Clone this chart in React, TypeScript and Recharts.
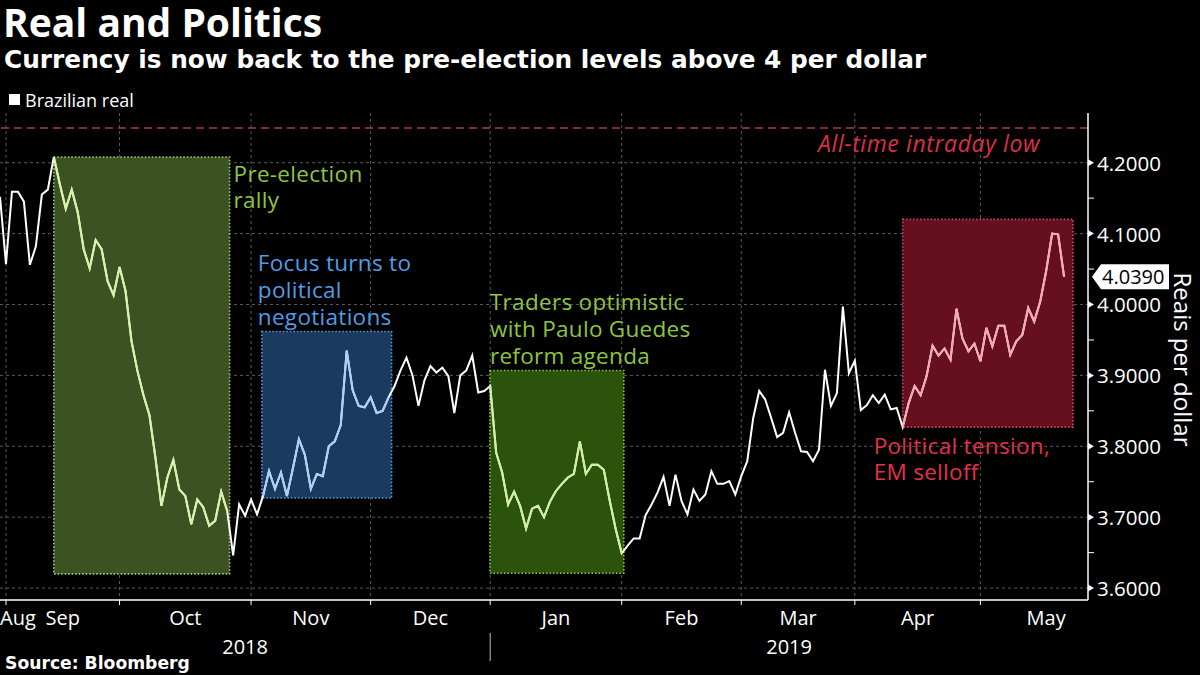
import React from 'react';
import {
  ComposedChart, Line, XAxis, YAxis, CartesianGrid, ReferenceArea, ReferenceLine,
} from 'recharts';

// USD/BRL, one close per trading day (index 0 = last day of Aug 2018)
const realValues = [
  4.152, 4.057, 4.159, 4.159, 4.145, 4.056, 4.082, 4.155, 4.162, 4.208,
  4.170, 4.135, 4.162, 4.130, 4.078, 4.051, 4.091, 4.078, 4.033, 4.013,
  4.053, 4.019, 3.948, 3.906, 3.872, 3.844, 3.784, 3.716, 3.756, 3.781,
  3.739, 3.730, 3.690, 3.725, 3.714, 3.688, 3.695, 3.736, 3.709, 3.646,
  3.718, 3.702, 3.725, 3.704, 3.730, 3.765, 3.740, 3.763, 3.730, 3.769,
  3.810, 3.788, 3.740, 3.761, 3.758, 3.800, 3.807, 3.830, 3.935, 3.879,
  3.857, 3.855, 3.869, 3.847, 3.850, 3.869, 3.885, 3.907, 3.925, 3.900,
  3.857, 3.893, 3.913, 3.904, 3.911, 3.899, 3.847, 3.900, 3.907, 3.928,
  3.876, 3.878, 3.885, 3.791, 3.763, 3.718, 3.736, 3.716, 3.684, 3.712,
  3.716, 3.700, 3.722, 3.737, 3.747, 3.756, 3.761, 3.807, 3.761, 3.774,
  3.774, 3.767, 3.723, 3.683, 3.649, 3.660, 3.670, 3.670, 3.703, 3.718,
  3.735, 3.757, 3.716, 3.760, 3.723, 3.704, 3.739, 3.723, 3.732, 3.765,
  3.747, 3.747, 3.751, 3.732, 3.758, 3.779, 3.840, 3.878, 3.866, 3.840,
  3.813, 3.819, 3.848, 3.819, 3.793, 3.792, 3.779, 3.795, 3.908, 3.857,
  3.875, 3.997, 3.903, 3.921, 3.851, 3.858, 3.872, 3.861, 3.873, 3.852,
  3.854, 3.827, 3.861, 3.885, 3.872, 3.899, 3.942, 3.928, 3.938, 3.922,
  3.994, 3.952, 3.934, 3.945, 3.920, 3.967, 3.941, 3.970, 3.970, 3.929,
  3.948, 3.957, 3.995, 3.976, 4.004, 4.047, 4.100, 4.099, 4.039,
];

const monthLabels = ['Aug', 'Sep', 'Oct', 'Nov', 'Dec', 'Jan', 'Feb', 'Mar', 'Apr', 'May'];
// index of first trading day of Sep .. May
const monthStartIdx = [1, 20, 42, 62, 82, 104, 124, 143, 164];
const yearLabels = ['2018', '2019'];
const yearStartIdx = [0, 82];
const X_MAX = 182;

const majorTicks = [3.6, 3.7, 3.8, 3.9, 4.0, 4.1, 4.2];
const minorTicks = [3.65, 3.75, 3.85, 3.95, 4.05, 4.15];
const lastValue = 4.039;
const allTimeLow = 4.249;

// highlighted periods
const periodStart = [9, 43.8, 81.95, 151];
const periodEnd = [38.4, 65.5, 104.35, 179.5];
const periodLow = [3.62, 3.727, 3.621, 3.827];
const periodHigh = [4.208, 3.962, 3.907, 4.12];
const periodNotes = [
  ['Pre-election', 'rally'],
  ['Focus turns to', 'political', 'negotiations'],
  ['Traders optimistic', 'with Paulo Guedes', 'reform agenda'],
  ['Political tension,', 'EM selloff'],
];

const periodStyle = [
  { fill: '#3b5323', border: '#a8cf6c', line: '#daf2a8', text: '#8dc63f', place: 'right', dx: 4 },
  { fill: '#1a3a5f', border: '#5b9be0', line: '#a9d0f5', text: '#4f9de6', place: 'above', dx: -4 },
  { fill: '#2c530b', border: '#8dc63f', line: '#d3f0a2', text: '#8dc63f', place: 'above', dx: 0 },
  { fill: '#650f1f', border: '#d04a66', line: '#f4a8b6', text: '#e3304c', place: 'below', dx: -29 },
];

const FONT = '"Open Sans", "Liberation Sans", sans-serif';
const BOLD = '"DejaVu Sans", sans-serif';

const segKeys = periodStart.map((_, k) => `seg${k}`);
const data = realValues.map((v, i) => {
  const row: Record<string, number | null> = { i, v };
  periodStart.forEach((s, k) => {
    row[segKeys[k]] = i >= Math.ceil(s) && i <= Math.floor(periodEnd[k]) ? v : null;
  });
  return row;
});

// month labels sit in the middle of each month, Aug is pinned to the left edge
const monthLabelPos = monthLabels.map((_, k) => {
  if (k === 0) return 0;
  const start = monthStartIdx[k - 1];
  const end = k < monthStartIdx.length ? monthStartIdx[k] : start + 22;
  return (start + end) / 2;
});
const yearLabelPos = yearLabels.map((_, k) => {
  const end = k + 1 < yearStartIdx.length ? yearStartIdx[k + 1] : X_MAX;
  return (yearStartIdx[k] + end) / 2;
});
const yearSplit = yearStartIdx.slice(1);

const xTicks = Array.from(new Set([...monthStartIdx, ...monthLabelPos, ...yearLabelPos])).sort((a, b) => a - b);
const yTicks = [...majorTicks, ...minorTicks, lastValue].sort((a, b) => a - b);

const near = (list: number[], v: number) => list.findIndex((a) => Math.abs(a - v) < 1e-6);

const XTick = (props: any) => {
  const { x, y, payload } = props;
  const v = payload.value;
  const mk = near(monthLabelPos, v);
  const yk = near(yearLabelPos, v);
  return (
    <g>
      {near(monthStartIdx, v) >= 0 && <line x1={x} y1={y} x2={x} y2={y + 5} stroke="#fff" />}
      {near(yearSplit, v) >= 0 && <line x1={x} y1={y + 33} x2={x} y2={y + 61} stroke="#bbb" />}
      {mk >= 0 && (
        <text x={x} y={y + 17} textAnchor={mk === 0 ? 'start' : 'middle'} dominantBaseline="central"
          fill="#fff" fontSize={20} fontFamily={FONT}>{monthLabels[mk]}</text>
      )}
      {yk >= 0 && (
        <text x={x} y={y + 46} textAnchor="middle" dominantBaseline="central"
          fill="#fff" fontSize={20} fontFamily={FONT}>{yearLabels[yk]}</text>
      )}
    </g>
  );
};

const YTick = (props: any) => {
  const { x, y, payload } = props;
  const v = payload.value;
  if (Math.abs(v - lastValue) < 1e-6) {
    return (
      <g>
        <path d={`M${x + 4},${y} L${x + 13},${y - 12.5} L${x + 81},${y - 12.5} L${x + 81},${y + 12.5} L${x + 13},${y + 12.5} Z`} fill="#fff" />
        <text x={x + 14} y={y} dominantBaseline="central" fill="#000" fontSize={20} fontFamily={FONT}>
          {v.toFixed(4)}
        </text>
      </g>
    );
  }
  if (near(majorTicks, v) >= 0) {
    return (
      <g>
        <path d={`M${x},${y - 3.5} L${x + 6},${y} L${x},${y + 3.5} Z`} fill="#fff" />
        <text x={x + 9} y={y} dominantBaseline="central" fill="#fff" fontSize={20.5} fontFamily={FONT}>
          {v.toFixed(4)}
        </text>
      </g>
    );
  }
  return <line x1={x} y1={y} x2={x + 6} y2={y} stroke="#fff" />;
};

const noteRenderer = (k: number) => (props: any) => {
  const { x, y, width, height } = props.viewBox;
  const st = periodStyle[k];
  const lines = periodNotes[k];
  const lh = 26.8;
  let tx = x + st.dx;
  let ty = y;
  if (st.place === 'right') {
    tx = x + width + st.dx;
    ty = y + 16;
  } else if (st.place === 'above') {
    ty = y - 15 - lh * (lines.length - 1);
  } else {
    ty = y + height + 18;
  }
  return (
    <g>
      {lines.map((l, j) => (
        <text key={j} x={tx} y={ty + j * lh} dominantBaseline="central" fill={st.text}
          fontSize={22.5} letterSpacing={0.3} fontFamily={FONT}>{l}</text>
      ))}
    </g>
  );
};

const lowLabel = (props: any) => {
  const { x, y, width } = props.viewBox;
  return (
    <text x={x + width - 48} y={y + 15} textAnchor="end" dominantBaseline="central"
      fill="#d9304a" fontSize={23} letterSpacing={0.6} fontStyle="italic" fontFamily={FONT}>All-time intraday low</text>
  );
};

const axisTitle = (props: any) => {
  const { x, y, height } = props.viewBox;
  const cx = x + 95;
  const cy = y + height / 2 + 3;
  return (
    <text x={cx} y={cy} transform={`rotate(90 ${cx} ${cy})`} textAnchor="middle" dominantBaseline="central"
      fill="#fff" fontSize={24} fontFamily={FONT}>Reais per dollar</text>
  );
};

export default function App() {
  return (
    <div style={{ position: 'absolute', left: 0, top: 0, width: 1200, height: 675, background: '#000', overflow: 'hidden' }}>
      <div style={{ position: 'absolute', left: 3, top: 0, lineHeight: '44px', fontFamily: FONT, fontWeight: 700, fontSize: 39, color: '#fff', whiteSpace: 'nowrap' }}>
        Real and Politics
      </div>
      <div style={{ position: 'absolute', left: 4, top: 44, lineHeight: '32px', fontFamily: BOLD, fontWeight: 700, fontSize: 24.8, color: '#fff', whiteSpace: 'nowrap' }}>
        Currency is now back to the pre-election levels above 4 per dollar
      </div>
      <div style={{ position: 'absolute', left: 9, top: 94, width: 11, height: 11, background: '#fff' }} />
      <div style={{ position: 'absolute', left: 25, top: 87, lineHeight: '26px', fontFamily: FONT, fontSize: 18, color: '#fff', whiteSpace: 'nowrap' }}>
        Brazilian real
      </div>
      <div style={{ position: 'absolute', left: 5, top: 650, lineHeight: '26px', fontFamily: BOLD, fontWeight: 700, fontSize: 17.2, color: '#fff', whiteSpace: 'nowrap' }}>
        Source: Bloomberg
      </div>
      <ComposedChart width={1200} height={675} data={data} margin={{ top: 113, right: 0, bottom: 0, left: 0 }}>
        <CartesianGrid stroke="#5a5a5a" strokeDasharray="3 3" horizontalValues={majorTicks} verticalValues={monthStartIdx} />
        {periodStart.map((s, k) => (
          <ReferenceArea key={k} x1={s} x2={periodEnd[k]} y1={periodLow[k]} y2={periodHigh[k]}
            fill={periodStyle[k].fill} fillOpacity={1} stroke={periodStyle[k].border} strokeWidth={1.6}
            strokeDasharray="1.5 2" label={noteRenderer(k)} />
        ))}
        <ReferenceLine y={allTimeLow} stroke="#b2383f" strokeWidth={1.5} strokeDasharray="8 5" label={lowLabel} />
        <XAxis dataKey="i" type="number" domain={[0, X_MAX]} allowDataOverflow ticks={xTicks} interval={0}
          tick={<XTick />} tickLine={false} tickSize={0} tickMargin={0} height={75}
          axisLine={{ stroke: '#fff', strokeWidth: 1.5 }} />
        <YAxis orientation="right" type="number" domain={[3.5832, 4.2701]} allowDataOverflow ticks={yTicks}
          interval={0} tick={<YTick />} tickLine={false} tickSize={0} tickMargin={0} width={112}
          axisLine={{ stroke: '#fff', strokeWidth: 1.5 }} label={axisTitle} />
        <Line dataKey="v" stroke="#fff" strokeWidth={2} dot={false} isAnimationActive={false} type="linear" />
        {segKeys.map((key, k) => (
          <Line key={key} dataKey={key} stroke={periodStyle[k].line} strokeWidth={2} dot={false}
            isAnimationActive={false} type="linear" connectNulls={false} />
        ))}
      </ComposedChart>
    </div>
  );
}
